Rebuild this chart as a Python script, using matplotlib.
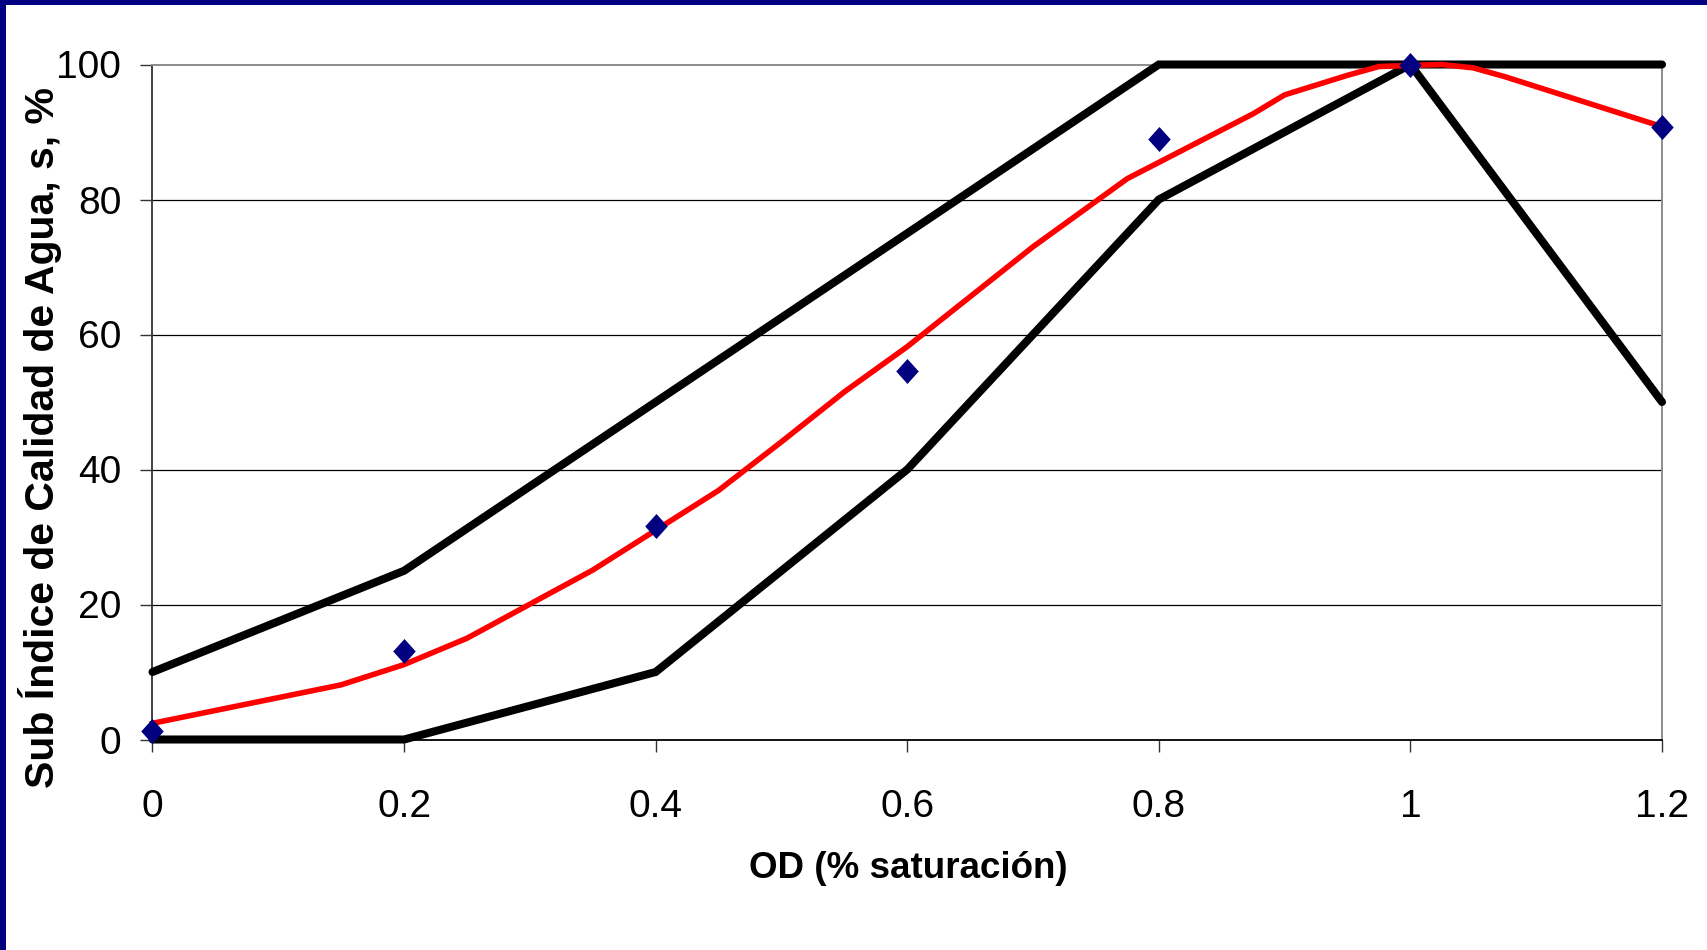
import matplotlib
matplotlib.use("Agg")
import matplotlib.pyplot as plt
from matplotlib.patches import Rectangle
from matplotlib.path import Path
from matplotlib import font_manager

# Curve data: dissolved oxygen (fraction of saturation) vs. water-quality sub-index
od_band = [0, 0.2, 0.4, 0.6, 0.8, 1.0, 1.2]
upper_band = [10, 25, 50, 75, 100, 100, 100]
lower_band = [0, 0, 10, 40, 80, 100, 50]

fit_x = [0, 0.15, 0.2, 0.25, 0.35, 0.4, 0.45, 0.5, 0.55, 0.6, 0.7, 0.775,
         0.875, 0.9, 0.95, 0.975, 1.025, 1.05, 1.075, 1.2]
fit_y = [2.4, 8.1, 11.1, 15.0, 25.1, 31.0, 36.9, 44.1, 51.5, 58.2, 73.0, 83.1,
         92.7, 95.5, 98.4, 99.7, 100.0, 99.5, 98.2, 90.8]

obs_x = [0, 0.2, 0.4, 0.6, 0.8, 1.0, 1.2]
obs_y = [1.3, 13.1, 31.6, 54.6, 88.9, 100.0, 90.8]

x_ticks = [0, 0.2, 0.4, 0.6, 0.8, 1.0, 1.2]
x_tick_labels = ["0", "0.2", "0.4", "0.6", "0.8", "1", "1.2"]
y_ticks = [0, 20, 40, 60, 80, 100]

x_title = "OD (% saturación)"
y_title = "Sub Índice de Calidad de Agua, s, %"

available = {f.name for f in font_manager.fontManager.ttflist}
family = ["Liberation Sans Narrow", "Liberation Sans", "DejaVu Sans"]
family = [f for f in family if f in available] or ["DejaVu Sans"]
plt.rcParams["font.family"] = family

W, H = 1708, 950
fig = plt.figure(figsize=(W / 100, H / 100), dpi=100)
fig.patch.set_facecolor("white")

left, right, top, bottom = 152.5 / W, 1662 / W, 1 - 64.5 / H, 1 - 739.5 / H
ax = fig.add_axes([left, bottom, right - left, top - bottom])
ax.set_xlim(0, 1.2)
ax.set_ylim(0, 100)

# horizontal gridlines
for yv in y_ticks[1:-1]:
    ax.axhline(yv, color="black", lw=0.9, zorder=1)

# envelope lines
for yy in (upper_band, lower_band):
    ax.plot(od_band, yy, color="black", lw=5.8, solid_capstyle="round",
            solid_joinstyle="miter", clip_on=False, zorder=3)

# fitted curve
ax.plot(fit_x, fit_y, color="#ff0000", lw=4.0, clip_on=False, zorder=4)

# observed points (slightly tall diamond)
diamond = Path([(-0.9, 0), (0, 1), (0.9, 0), (0, -1), (-0.9, 0)],
               [Path.MOVETO, Path.LINETO, Path.LINETO, Path.LINETO, Path.CLOSEPOLY])
ax.plot(obs_x, obs_y, linestyle="none", marker=diamond, markersize=18,
        color="#000080", markeredgewidth=0, clip_on=False, zorder=5)

for side in ("top", "right"):
    ax.spines[side].set_color("#8c8c8c")
    ax.spines[side].set_linewidth(1.4)
ax.spines["left"].set_color("#333333")
ax.spines["left"].set_linewidth(1.3)
ax.spines["bottom"].set_color("#000000")
ax.spines["bottom"].set_linewidth(1.3)

ax.set_xticks(x_ticks)
ax.set_xticklabels(x_tick_labels)
ax.set_yticks(y_ticks)
ax.tick_params(axis="both", direction="out", length=8.5, width=1.0,
               color="#333333", labelsize=28)
ax.tick_params(axis="x", pad=27)
ax.tick_params(axis="y", pad=14)

fig.text(908 / W, 1 - 869 / H, x_title, ha="center", va="center",
         fontsize=26.5, fontweight="bold")
fig.text(40 / W, 1 - 438 / H, y_title, ha="center", va="center",
         rotation=90, fontsize=29.5, fontweight="bold")

# navy frame along the top and left edges
fig.patches.append(Rectangle((0, 1 - 5 / H), 1, 5 / H, transform=fig.transFigure,
                             facecolor="#000080", edgecolor="none", zorder=10))
fig.patches.append(Rectangle((0, 0), 6 / W, 1, transform=fig.transFigure,
                             facecolor="#000080", edgecolor="none", zorder=10))

fig.savefig("out.png", dpi=100, facecolor="white")
